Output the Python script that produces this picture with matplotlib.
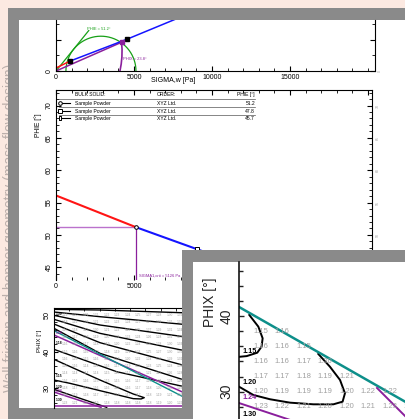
import numpy as np
import matplotlib
matplotlib.use("Agg")
import matplotlib.pyplot as plt
from matplotlib.patches import Rectangle
from matplotlib.ticker import MultipleLocator

plt.rcParams['font.family'] = ['Liberation Sans', 'DejaVu Sans']

W, H = 406, 419

# ---- top chart: yield loci and Mohr circle ----
sigma_yl_red = [0, 900]
tau_yl_red = [190, 640]
sigma_yl_blue = [900, 4550, 9000]
tau_yl_blue = [640, 2050, 3900]
sigma_yl_pts = [900, 4550]
tau_yl_pts = [640, 2050]
sigma1_crit = 5126
sigma2_crit = 637
phie = 51.2
phix = 23.8
sigma_eyl = [0, 2100]
tau_eyl = [0, 2610]
sigma_wyl = [0, 4200]
tau_wyl = [0, 1853]
sigma_warc = [4200, 4235, 4225, 4180, 4100]
tau_warc = [1853, 1400, 900, 450, 0]

# ---- middle chart: PHIE over SIGMA1 ----
sigma_phie_red = [0, 5126]
phie_red = [56.1, 51.2]
sigma_phie = [5126, 9040, 11460]
phie_vals = [51.2, 47.8, 45.7]
table_solid = ['Sample Powder', 'Sample Powder', 'Sample Powder']
table_order = ['XYZ Ltd.', 'XYZ Ltd.', 'XYZ Ltd.']
rect_marker = [(-0.35, -0.6), (0.35, -0.6), (0.35, 0.6), (-0.35, 0.6), (-0.35, -0.6)]
table_marker = ['o', 's', rect_marker]

# ---- lower chart: flow factor over wall friction angle ----
phix_rows_small = [50, 48, 46, 44, 42, 40, 38, 36, 34, 32, 30, 28, 26]
theta_cols_small = [1, 2, 3, 4, 5, 6, 7, 8, 9, 10, 11, 12]
ff_small = [
    [1.19, 1.20, 1.21, 1.21, 1.22, 1.23, 1.24, 1.25, 1.27, 1.28, 1.30, 1.32],
    [1.18, 1.19, 1.20, 1.21, 1.22, 1.23, 1.24, 1.25, 1.27, 1.29, 1.31, 1.33],
    [1.17, 1.18, 1.19, 1.20, 1.21, 1.22, 1.24, 1.25, 1.27, 1.29, 1.31, 1.34],
    [1.16, 1.17, 1.18, 1.19, 1.20, 1.21, 1.23, 1.24, 1.26, 1.28, 1.31, 1.33],
    [1.16, 1.16, 1.17, 1.18, 1.19, 1.20, 1.22, 1.24, 1.26, 1.28, 1.30, 1.33],
    [1.15, 1.16, 1.16, 1.17, 1.18, 1.19, 1.21, 1.23, 1.25, 1.27, 1.30, 1.32],
    [1.16, 1.16, 1.15, 1.16, 1.17, 1.18, 1.20, 1.22, 1.24, 1.26, 1.29, 1.31],
    [1.16, 1.16, 1.14, 1.16, 1.16, 1.17, 1.19, 1.21, 1.23, 1.25, 1.28, 1.30],
    [1.14, 1.14, 1.14, 1.14, 1.15, 1.16, 1.17, 1.19, 1.21, 1.23, 1.26, 1.28],
    [1.16, 1.16, 1.16, 1.15, 1.15, 1.15, 1.16, 1.17, 1.19, 1.21, 1.24, 1.26],
    [1.18, 1.17, 1.17, 1.16, 1.16, 1.16, 1.16, 1.17, 1.18, 1.20, 1.22, 1.24],
    [1.20, 1.19, 1.18, 1.17, 1.17, 1.17, 1.17, 1.17, 1.18, 1.19, 1.21, 1.23],
    [1.23, 1.21, 1.20, 1.19, 1.18, 1.18, 1.18, 1.18, 1.18, 1.19, 1.20, 1.22],
]
small_black_lines = [
    ([0, 4.38, 12.5], [51.55, 51.37, 50.6]),
    ([0, 4.38, 12.5], [50.82, 49.54, 47.4]),
    ([0, 4.38, 12.5], [49.91, 47.26, 44.0]),
    ([0, 4.38, 12.5], [48.81, 44.98, 40.2]),
    ([0, 4.38, 12.5], [47.53, 42.42, 36.1]),
    ([0, 4.38, 12.5], [46.35, 39.50, 32.1]),
    ([0, 5.97, 12.5], [40.59, 34.47, 30.3]),
    ([0, 4.38, 7.55, 8.6, 8.3, 7.55, 4.38, 1.52, 0],
     [37.85, 32.19, 28.36, 27.35, 27.0, 27.08, 29.27, 31.28, 32.19]),
    ([0, 2.48, 5.02], [29.63, 27.17, 24.7]),
]
small_purple_lines = [
    ([0, 12.5], [44.52, 28.57]),
    ([0, 2.79, 4.48], [28.9, 26.26, 24.7]),
    ([0, 12.5], [25.07, 25.07]),
]
small_teal_x = [0, 12.5]
small_teal_phix = [45.71, 27.31]
small_labels = [('1.30', 50.3, 'black'), ('1.24', 45.0, 'purple'), ('1.18', 42.2, 'black'),
                ('1.15', 33.3, 'black'), ('1.20', 30.4, 'black'), ('1.24', 29.3, 'purple'),
                ('1.30', 26.6, 'black')]

# ---- zoomed detail of the lower chart ----
phix_rows_zoom = [38, 36, 34, 32, 30, 28]
theta_cols_zoom = [1, 2, 3, 4, 5, 6, 7, 8]
nan = np.nan
ff_zoom = [
    [1.15, 1.16, nan, nan, nan, nan, nan, nan],
    [1.16, 1.16, 1.15, nan, nan, nan, nan, nan],
    [1.16, 1.16, 1.17, 1.20, nan, nan, nan, nan],
    [1.17, 1.17, 1.18, 1.19, 1.21, nan, nan, nan],
    [1.20, 1.19, 1.19, 1.19, 1.20, 1.22, 1.22, nan],
    [1.23, 1.22, 1.21, 1.20, 1.20, 1.21, 1.23, 1.25],
]
ff115_x = [0.48, 0.90, 1.10, 1.05, 0.85, 0.36, 0.0]
ff115_phix = [40.13, 38.59, 37.05, 35.95, 35.15, 34.7, 34.6]
ff120_x = [3.69, 4.23, 4.70, 4.93, 4.82, 4.39, 3.46, 2.37, 1.44, 0.67, 0.0]
ff120_phix = [34.98, 33.3, 31.55, 29.79, 28.68, 28.33, 28.33, 28.55, 29.0, 29.56, 30.66]
teal_x = [0, 7.9]
teal_phix = [41.19, 28.4]
purple_r_x = [6.42, 7.9]
purple_r_phix = [30.49, 26.29]
purple_l_x = [0, 2.5]
purple_l_phix = [28.5, 26.15]
zoom_labels = [('1.15', 35.3, 'black'), ('1.20', 31.2, 'black'),
               ('1.24', 29.2, 'purple'), ('1.30', 26.95, 'black')]

pink = '#fce9e1'
frame_gray = '#8a8a8a'
blue = '#1414ff'
red = '#ff1414'
green = '#17a017'
purple = '#8a1f9c'
light_purple = '#bb72cc'
teal = '#0d8f8a'
num_gray = '#a0a0a0'
colmap = {'black': 'black', 'purple': purple}


def box(x0, y0, x1, y1):
    return [x0 / W, 1 - y1 / H, (x1 - x0) / W, (y1 - y0) / H]


def add_rect(x0, y0, x1, y1, color, z):
    r = Rectangle((x0 / W, 1 - y1 / H), (x1 - x0) / W, (y1 - y0) / H,
                  transform=fig.transFigure, facecolor=color, edgecolor='none', zorder=z)
    fig.add_artist(r)


def rotate_ylabels(ax):
    for t in ax.get_yticklabels():
        t.set_rotation(90)
        t.set_va('center')


fig = plt.figure(figsize=(W / 100, H / 100), dpi=100, facecolor=pink)

# document title in the margin, mostly hidden by the viewer frame
fig.text(10 / W, 1 - 228 / H, 'Wall friction and hopper geometry (mass flow design)',
         rotation=90, ha='center', va='center', fontsize=10, color='#bcafab', zorder=-6)
add_rect(8, 8, W, H, frame_gray, -5)
add_rect(19, 20, W, 408, 'white', -4)

# top chart
ax1 = fig.add_axes(box(56, 20, 375, 71))
th = np.linspace(0, np.pi, 200)
c = (sigma1_crit + sigma2_crit) / 2
r = (sigma1_crit - sigma2_crit) / 2
ax1.plot(c + r * np.cos(th), r * np.sin(th), color=green, lw=0.9)
ax1.plot(sigma_eyl, tau_eyl, color=green, lw=0.9)
ax1.plot(sigma_wyl, tau_wyl, color=purple, lw=1.1)
ax1.plot(sigma_warc, tau_warc, color=purple, lw=1.2)
ax1.plot(sigma_yl_red, tau_yl_red, color=red, lw=1.1)
ax1.plot(sigma_yl_blue, tau_yl_blue, color=blue, lw=1.1)
ax1.plot(sigma_yl_pts, tau_yl_pts, 's', color='black', ms=2.6)
ax1.plot(sigma_wyl[-1], tau_wyl[-1], 's', color=purple, ms=2.4)
ax1.text(2000, 2690, 'PHIE = {}°'.format(phie), color=green, fontsize=2.9, va='center')
ax1.text(4300, 770, 'PHIX = {}°'.format(phix), color=purple, fontsize=2.9, va='center')
ax1.set_xlim(0, 20450)
ax1.set_ylim(0, 3290)
ax1.spines['top'].set_visible(False)
ax1.set_xticks([0, 5000, 10000, 15000])
ax1.xaxis.set_minor_locator(MultipleLocator(1000))
ax1.set_yticks([0, 2000])
ax1.set_yticklabels(['0', ''])
ax1.yaxis.set_minor_locator(MultipleLocator(1000))
ax1.tick_params(which='both', direction='in', top=False, right=True, labelsize=5, pad=2.2)
ax1.tick_params(which='major', length=3.5)
ax1.tick_params(which='minor', length=2)
ax1.tick_params(axis='y', labelright=True)
for t in ax1.yaxis.get_major_ticks():
    t.label2.set_fontsize(2.5)
    t.label2.set_color(num_gray)
rotate_ylabels(ax1)
ax1.set_xlabel('SIGMA,w [Pa]', fontsize=5)
ax1.xaxis.set_label_coords(0.368, -0.115)

# middle chart
ax2 = fig.add_axes(box(56, 90, 372, 280))
ax2.set_xlim(0, 20256)
ax2.set_ylim(43.04, 72.4)
ax2.plot([0, sigma1_crit], [phie_vals[0], phie_vals[0]], color=light_purple, lw=1.0)
ax2.vlines(sigma1_crit, 43.04, phie_vals[0], color=purple, lw=0.9)
ax2.plot(sigma_phie_red, phie_red, color=red, lw=1.5)
ax2.plot(sigma_phie, phie_vals, color=blue, lw=1.5)
for s, p, m in zip(sigma_phie, phie_vals, table_marker):
    ax2.plot(s, p, marker=m, ms=2.6, mfc='white', mec='black', mew=0.7, ls='none')
ax2.text(5300, 43.75, 'SIGMA1,crit = {} Pa'.format(sigma1_crit), color=purple, fontsize=2.9, va='center')

# table header inside the chart
ty = [0.930, 0.889, 0.851]
ax2.text(0.060, 0.974, 'BULK SOLID:', transform=ax2.transAxes, fontsize=3.6, va='center')
ax2.text(0.320, 0.974, 'ORDER:', transform=ax2.transAxes, fontsize=3.6, va='center')
ax2.text(0.630, 0.974, 'PHIE [°]', transform=ax2.transAxes, fontsize=3.6, va='center', ha='right')
for yl in [0.953, 0.909, 0.869]:
    ax2.plot([0.009, 0.630], [yl, yl], transform=ax2.transAxes, color='#555555', lw=0.5)
for i in range(3):
    ax2.plot([0.013, 0.045], [ty[i], ty[i]], transform=ax2.transAxes, color='black', lw=0.8)
    ax2.plot(0.013, ty[i], marker=table_marker[i], ms=2.6, mfc='white', mec='black',
             mew=0.7, transform=ax2.transAxes)
    ax2.text(0.060, ty[i], table_solid[i], transform=ax2.transAxes, fontsize=3.6, va='center')
    ax2.text(0.320, ty[i], table_order[i], transform=ax2.transAxes, fontsize=3.6, va='center')
    ax2.text(0.630, ty[i], '{:.1f}'.format(phie_vals[i]), transform=ax2.transAxes,
             fontsize=3.6, va='center', ha='right')

# labels beyond 5000 sit under the detail panel, so only 0 and 5000 get text
ax2.set_xticks([0, 5000, 10000, 15000, 20000])
ax2.set_xticklabels(['0', '5000', '', '', ''])
ax2.xaxis.set_minor_locator(MultipleLocator(1000))
ax2.set_yticks([45, 50, 55, 60, 65, 70])
ax2.yaxis.set_minor_locator(MultipleLocator(1))
ax2.spines['bottom'].set_visible(False)
ax2.tick_params(which='both', direction='in', top=True, right=True, labelsize=5, pad=2.5)
ax2.tick_params(which='major', length=3.5)
ax2.tick_params(which='minor', length=2)
ax2.tick_params(axis='y', labelright=True)
for t in ax2.yaxis.get_major_ticks():
    t.label2.set_fontsize(2.5)
    t.label2.set_color(num_gray)
rotate_ylabels(ax2)
ax2.set_ylabel('PHIE [°]', fontsize=4.8)
ax2.yaxis.set_label_coords(-0.045, 0.816)

# lower chart
ax3 = fig.add_axes(box(54, 308, 372, 408))
ax3.set_xlim(0, 30.3)
ax3.set_ylim(24.52, 51.92)
for i, row in enumerate(phix_rows_small):
    for j, col in enumerate(theta_cols_small):
        ax3.text(col, row, '{:.2f}'.format(ff_small[i][j]), fontsize=2.3, color=num_gray,
                 ha='center', va='center')
for xs, ys in small_black_lines:
    ax3.plot(xs, ys, color='black', lw=1.0)
for xs, ys in small_purple_lines:
    ax3.plot(xs, ys, color=purple, lw=1.1)
ax3.plot(small_teal_x, small_teal_phix, color=teal, lw=1.0)
for txt, p, col in small_labels:
    ax3.text(0.15, p, txt, fontsize=2.4, color=colmap[col], fontweight='bold', va='center')
ax3.spines['bottom'].set_visible(False)
ax3.spines['right'].set_visible(False)
ax3.set_xticks([])
ax3.xaxis.set_minor_locator(MultipleLocator(1.45))
ax3.set_yticks([30, 40, 50])
ax3.yaxis.set_minor_locator(MultipleLocator(2))
ax3.tick_params(which='both', direction='in', top=True, bottom=False, labelsize=5.2, pad=2.5)
ax3.tick_params(which='major', length=3)
ax3.tick_params(which='minor', length=2)
rotate_ylabels(ax3)
ax3.set_ylabel('PHIX [°]', fontsize=4.5)
ax3.yaxis.set_label_coords(-0.039, 0.67)

# zoomed detail drawn on top
add_rect(182, 250, W, H, frame_gray, 5)
add_rect(193, 262, W, H, 'white', 6)
ax4 = fig.add_axes(box(239, 262, W, H), zorder=7)
ax4.set_facecolor('none')
ax4.set_xlim(0, 7.77)
ax4.set_ylim(26.39, 47.13)
for i, row in enumerate(phix_rows_zoom):
    for j, col in enumerate(theta_cols_zoom):
        v = ff_zoom[i][j]
        if not np.isnan(v):
            ax4.text(col, row, '{:.2f}'.format(v), fontsize=5.5, color=num_gray,
                     ha='center', va='center')
ax4.plot(ff115_x, ff115_phix, color='black', lw=1.4)
ax4.plot(ff120_x, ff120_phix, color='black', lw=1.4)
ax4.plot(teal_x, teal_phix, color=teal, lw=1.8)
ax4.plot(purple_r_x, purple_r_phix, color=purple, lw=1.4)
ax4.plot(purple_l_x, purple_l_phix, color=purple, lw=1.4)
for txt, p, col in zoom_labels:
    ax4.text(0.18, p, txt, fontsize=5.2, color=colmap[col], fontweight='bold', va='center')
for s in ['top', 'right', 'bottom']:
    ax4.spines[s].set_visible(False)
ax4.spines['left'].set_linewidth(1.1)
ax4.set_xticks([])
ax4.set_yticks([30, 40])
ax4.yaxis.set_minor_locator(MultipleLocator(2))
ax4.tick_params(which='both', direction='in', labelsize=10, pad=4, width=1.0, colors='#222222')
ax4.tick_params(which='major', length=3.8)
ax4.tick_params(which='minor', length=3.0)
rotate_ylabels(ax4)
ax4.set_ylabel('PHIX [°]', fontsize=10, color='#222222')
ax4.yaxis.set_label_coords(-0.134, 0.745)

fig.savefig('out.png', dpi=100, facecolor=pink)
